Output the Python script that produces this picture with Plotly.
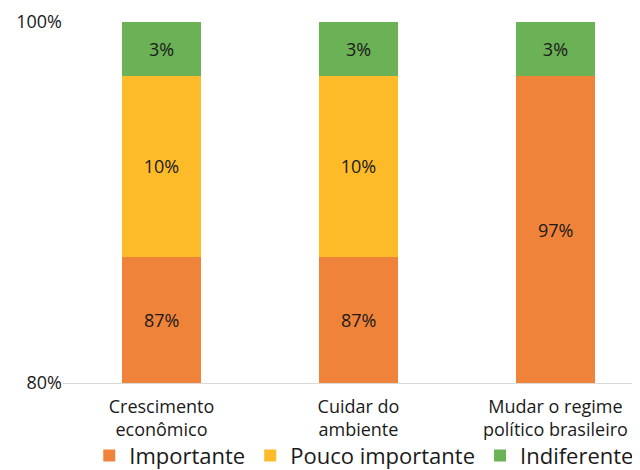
import plotly.graph_objects as go

categories = ["Crescimento<br>econômico", "Cuidar do<br>ambiente", "Mudar o regime<br>político brasileiro"]
importante = [87, 87, 97]
pouco_importante = [10, 10, 0]
indiferente = [3, 3, 3]
y_min, y_max = 80, 100
y_ticks = [80, 100]

series = [
    ("Importante", importante, "#F0833A"),
    ("Pouco importante", pouco_importante, "#FDBB2A"),
    ("Indiferente", indiferente, "#6BB155"),
]

FONT = "Open Sans"
TXT = "#1a1a1a"

fig = go.Figure()
for i, (name, vals, color) in enumerate(series):
    fig.add_trace(go.Bar(
        x=categories, y=vals, name=name,
        marker=dict(color=color, line=dict(width=0)),
        text=None if i == 0 else [f"{v}%" if v > 0 else "" for v in vals],
        textposition="inside", insidetextanchor="middle",
        textfont=dict(size=18, color=TXT, family=FONT),
        width=0.4,
    ))

# labels of the bottom segment placed at the middle of its visible part
for c, v in zip(categories, importante):
    fig.add_annotation(x=c, y=(y_min + v) / 2, text=f"{v}%", showarrow=False,
                       font=dict(size=18, color=TXT, family=FONT))

fig.update_layout(
    barmode="stack",
    width=640, height=470,
    margin=dict(l=55, r=0, t=14, b=95, autoexpand=False),
    plot_bgcolor="white", paper_bgcolor="white",
    font=dict(family=FONT, color=TXT),
    showlegend=True,
    legend=dict(orientation="h", x=0.515, xanchor="center", y=-0.143, yanchor="top",
                bgcolor="rgba(0,0,0,0)",
                font=dict(size=22, color=TXT, family=FONT), traceorder="normal",
                itemwidth=30, tracegroupgap=0),
    uniformtext=dict(mode=False),
)
fig.update_xaxes(range=[-0.5, 2.47], showgrid=False, showline=True,
                 linecolor="#D9D9D9", linewidth=1, automargin=False,
                 ticklabelstandoff=7,
                 ticks="", tickfont=dict(size=18, color=TXT, family=FONT))
fig.update_yaxes(range=[y_min, y_max], tickvals=y_ticks,
                 ticktext=[f"{t}%" for t in y_ticks], automargin=False,
                 showgrid=True, gridcolor="#D9D9D9", gridwidth=1,
                 zeroline=False, showline=False,
                 tickfont=dict(size=18, color=TXT, family=FONT), ticks="")
fig.write_html("out.html")
